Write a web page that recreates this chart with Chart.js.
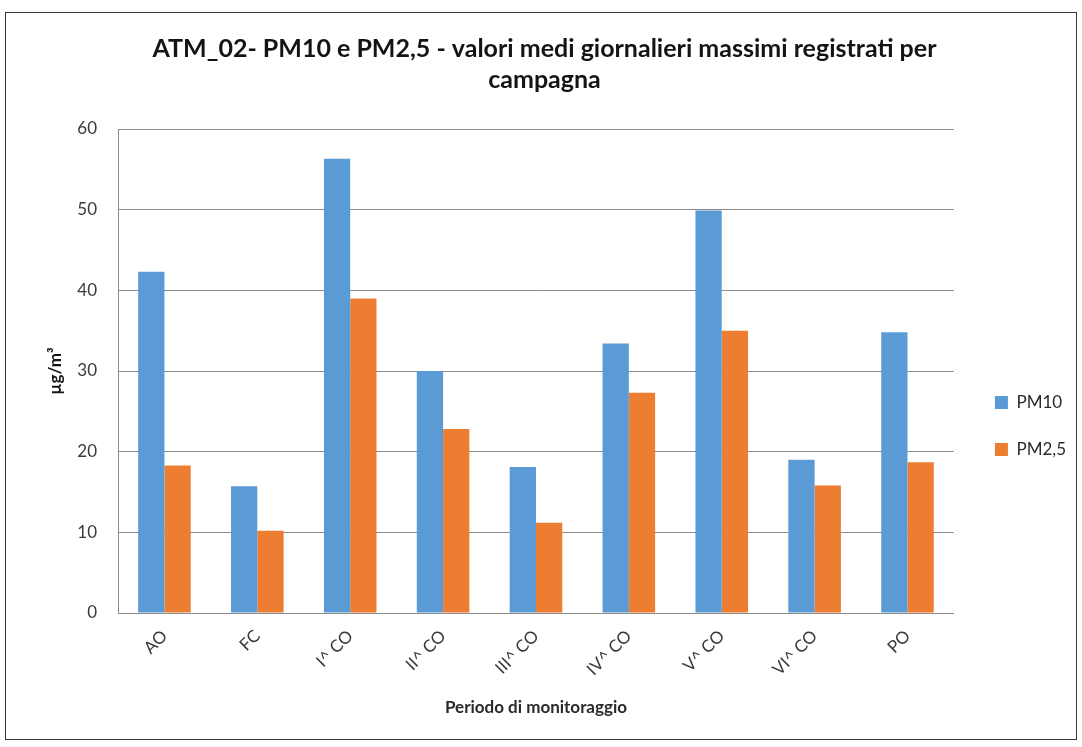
<!DOCTYPE html>
<html>
<head>
<meta charset="utf-8">
<script src="https://cdn.jsdelivr.net/npm/chart.js@4.4.1/dist/chart.umd.min.js"></script>
<style>
  html, body { margin: 0; padding: 0; background: #ffffff; }
  #frame { position: absolute; left: 5px; top: 12px; width: 1070px; height: 726px; border: 1px solid #3a3a3a; background: #fff; }
  #frame canvas { display: block; }
</style>
</head>
<body>
<div id="frame"><canvas id="c" width="1070" height="726"></canvas></div>
<script>
const categories = ["AO", "FC", "I^ CO", "II^ CO", "III^ CO", "IV^ CO", "V^ CO", "VI^ CO", "PO"];
const pm10 = [42.3, 15.7, 56.3, 30.0, 18.1, 33.4, 49.9, 19.0, 34.8];
const pm25 = [18.3, 10.2, 39.0, 22.8, 11.2, 27.3, 35.0, 15.8, 18.7];
const seriesNames = ["PM10", "PM2,5"];
const yTicks = [0, 10, 20, 30, 40, 50, 60];
const titleLines = ["ATM_02- PM10 e PM2,5 - valori medi giornalieri massimi registrati per", "campagna"];
const yTitle = "µg/m³";
const xTitle = "Periodo di monitoraggio";

const FONT = "Lato, 'Open Sans', sans-serif";

const shiftPlugin = {
  id: 'shiftBoxes',
  afterLayout(chart) {
    if (chart.titleBlock) {
      chart.titleBlock.left += 9;
      chart.titleBlock.right += 9;
    }
    if (chart.legend) {
      chart.legend.top += 50;
      chart.legend.bottom += 50;
      chart.legend.left += 11;
      chart.legend.right += 11;
    }
  }
};

new Chart(document.getElementById('c'), {
  type: 'bar',
  data: {
    labels: categories,
    datasets: [
      { label: seriesNames[0], data: pm10, backgroundColor: '#5B9BD5', borderWidth: 0 },
      { label: seriesNames[1], data: pm25, backgroundColor: '#ED7D31', borderWidth: 0 }
    ]
  },
  options: {
    responsive: false,
    animation: false,
    layout: { padding: { left: 0, right: 11, top: 0, bottom: 0 } },
    datasets: { bar: { categoryPercentage: 0.566, barPercentage: 1.0 } },
    plugins: {
      title: {
        display: true,
        text: titleLines,
        color: '#141414',
        font: { family: FONT, size: 25, weight: 'bold', lineHeight: 1.24 },
        padding: { top: 20.5, bottom: 33.5 }
      },
      legend: {
        position: 'right',
        labels: {
          boxWidth: 13, boxHeight: 13,
          color: '#2a2a2a',
          font: { family: FONT, size: 17 },
          padding: 30
        }
      },
      tooltip: { enabled: false }
    },
    scales: {
      x: {
        grid: { display: false, drawTicks: false },
        border: { display: true, color: '#8c8c8c', width: 1 },
        ticks: { color: '#3a3a3a', font: { family: FONT, size: 17 }, minRotation: 45, maxRotation: 45, padding: 13 },
        title: { display: true, text: xTitle, color: '#2a2a2a', font: { family: FONT, size: 17, weight: 'bold' }, padding: { top: 0, bottom: 20.8 } },
        afterFit(scale) { scale.height = 126; }
      },
      y: {
        min: 0, max: 60,
        afterBuildTicks(scale) { scale.ticks = yTicks.map(v => ({ value: v })); },
        grid: { color: '#8c8c8c', lineWidth: 1, drawTicks: false },
        border: { display: true, color: '#8c8c8c', width: 1 },
        ticks: { color: '#3a3a3a', font: { family: FONT, size: 17 }, padding: 21 },
        title: { display: true, text: yTitle, color: '#141414', font: { family: FONT, size: 17, weight: 'bold' }, padding: { top: 39.8, bottom: 0 } },
        afterFit(scale) { scale.width = 112; }
      }
    }
  },
  plugins: [shiftPlugin]
});
</script>
</body>
</html>
